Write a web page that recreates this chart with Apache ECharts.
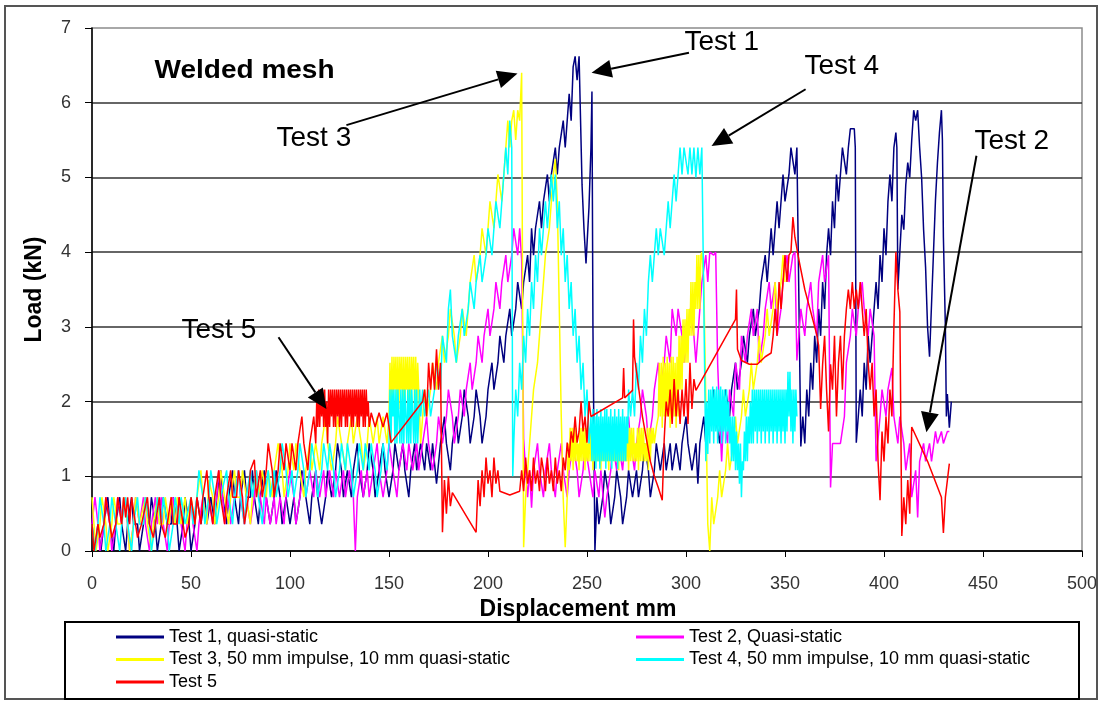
<!DOCTYPE html>
<html>
<head>
<meta charset="utf-8">
<script src="https://cdn.jsdelivr.net/npm/echarts@6/dist/echarts.min.js"></script>
<style>
  html, body { margin: 0; padding: 0; background: #fff; }
  #chart { width: 1102px; height: 703px; }
</style>
</head>
<body>
<div id="chart"></div>
<script>
// Load–displacement records of the welded mesh tests, [displacement mm, load kN]
const seriesNames = [
  'Test 1, quasi-static',
  'Test 2, Quasi-static',
  'Test 3, 50 mm impulse, 10 mm quasi-static',
  'Test 4, 50 mm impulse, 10 mm quasi-static',
  'Test 5'
];
const seriesColors = ['#000080', '#ff00ff', '#ffff00', '#00ffff', '#ff0000'];

const test1 = [[0,0.36],[1.5,0],[3,0.36],[4.5,0],[6,0.36],[8,0.72],[9,0.36],[11,0],[12,0.36],[14,0.72],[15,0.36],[17,0],[18,0.36],[20,0.72],[21,0.36],[23,0.36],[24,0],[26,0.36],[27,0.72],[29,0.36],[30,0.72],[32,0.36],[33,0],[35,0.36],[36,0.72],[38,0.36],[40,0.36],[41,0.72],[43,0.36],[44,0],[46,0.36],[47,0.72],[49,0.36],[50,0],[52,0.36],[53,0.72],[55,0.36],[57,0.72],[58,0.36],[60,0.72],[62,0.36],[63,0.72],[65,1.08],[66,0.72],[68,0.36],[69,0.72],[71,1.08],[72,0.72],[74,0.36],[75,0.72],[77,1.08],[78,0.72],[80,0.72],[81,1.08],[82,0.72],[84,0.36],[85,0.72],[87,1.08],[88,0.72],[90,0.36],[92,0.72],[93,1.08],[95,0.72],[96,0.36],[98,0.72],[100,0.36],[102,0.72],[103,0.36],[105,0.72],[106,1.08],[108,0.72],[110,0.36],[111,0.72],[113,1.08],[114,0.72],[116,0.36],[118,0.72],[119,1.08],[121,0.72],[123,1.08],[124,1.44],[126,1.08],[127,0.72],[129,1.08],[131,0.72],[132,1.08],[134,1.44],[135,1.08],[137,0.72],[139,1.08],[140,1.44],[142,1.08],[143,0.72],[145,1.08],[147,1.44],[148,1.08],[150,0.72],[152,1.08],[153,1.44],[155,1.08],[157,1.44],[158,1.08],[160,0.72],[161,1.08],[163,1.44],[164,1.08],[166,1.44],[168,1.08],[169,1.44],[171,1.08],[172,1.44],[174,0.9],[176,1.44],[178,1.8],[179,1.44],[181,1.08],[182,1.44],[184,1.8],[185,1.44],[187,1.8],[188,2.16],[190,1.8],[191,1.44],[193,1.8],[194,2.16],[196,1.8],[197,1.44],[199,1.8],[200,2.16],[202,2.52],[203,2.16],[205,2.52],[206,2.88],[208,2.52],[209,2.88],[211,3.24],[212,2.88],[214,3.24],[215,3.6],[217,3.24],[218,3.6],[220,3.96],[221,3.6],[222,4.32],[223,3.96],[224,4.32],[226,4.68],[227,4.32],[228,4.68],[230,5.04],[231,4.68],[232,5.04],[234,5.4],[235,5.04],[236,5.4],[238,5.76],[239,5.4],[240,5.76],[241,6.12],[242,5.76],[243,6.48],[244,6.62],[245,6.3],[246,6.62],[247,6.62],[247.5,4.9],[248.5,4.3],[249.5,3.85],[251,4.6],[252,5.4],[252.5,6.15],[253,3.0],[254,0],[255,0.72],[256,0.36],[258,0.72],[259,1.08],[261,0.72],[262,0.36],[264,0.72],[265,1.08],[267,0.72],[268,0.36],[270,0.72],[271,1.08],[273,0.72],[275,1.08],[276,0.72],[278,1.08],[279,1.44],[281,1.08],[282,0.72],[284,1.08],[285,1.44],[287,1.08],[289,1.44],[290,1.08],[292,1.44],[293,1.08],[295,1.44],[297,1.08],[298,1.44],[300,1.8],[301,1.44],[303,1.08],[305,1.44],[306,0.9],[307,1.44],[309,1.8],[310,1.44],[312,1.8],[314,2.16],[315,1.8],[317,1.44],[318,1.8],[320,2.16],[322,1.8],[323,2.16],[325,2.52],[326,2.16],[328,2.52],[329,2.88],[331,2.52],[332,2.88],[334,3.24],[335,2.88],[337,3.24],[338,3.6],[340,3.96],[341,3.6],[343,4.32],[344,3.96],[346,4.68],[347,4.32],[349,5.04],[350,4.68],[352,5.04],[353,5.4],[355,5.04],[356,5.4],[357,5.4],[358,1.4],[359,1.8],[360,1.44],[361,2.16],[362,1.8],[363,2.52],[364,2.16],[365,2.88],[366,2.52],[367,3.24],[368,2.88],[369,3.6],[370,3.24],[371,3.96],[372,4.32],[373,3.96],[374,4.68],[375,4.32],[376,5.04],[377,4.68],[378,5.04],[379,5.4],[381,5.04],[382,5.4],[383,5.65],[385,5.65],[385.5,5.4],[386,1.45],[387,1.8],[388,2.16],[389,1.8],[390,2.52],[391,2.16],[392,2.88],[393,2.52],[394,2.88],[395,3.24],[396,3.6],[397,3.24],[398,3.96],[399,3.6],[400,4.32],[401,3.96],[402,4.68],[403,5.04],[404,4.68],[405,5.4],[406,5.6],[406.5,5.4],[407,3.5],[408,4.0],[409,4.5],[410,4.3],[411,4.9],[412,5.2],[413,5.0],[414,5.5],[415,5.9],[416,5.76],[417,5.9],[418,5.4],[419,5.0],[420,4.3],[421,3.8],[422,3.0],[423,2.6],[424,3.3],[425,4.0],[426,4.7],[427,5.2],[428,5.6],[429,5.9],[429.5,5.5],[430,4.2],[431,3.0],[431.5,1.8],[432,2.1],[433,1.65],[434,2.0]];

const test2 = [[0,0.36],[1.5,0.72],[3,0.36],[4,0],[6,0.36],[7,0.72],[9,0.36],[10,0],[12,0.36],[13,0.72],[15,0.36],[16,0.72],[18,0.36],[19,0],[21,0.36],[22,0.72],[24,0.36],[26,0.72],[27,0.36],[29,0],[30,0.36],[32,0.72],[33,0.36],[35,0.72],[36,0.36],[38,0],[39,0.36],[41,0.72],[42,0.36],[44,0.72],[45,0.36],[47,0],[48,0.36],[50,0.72],[51,0.36],[53,0],[54,0.36],[56,0.72],[58,0.36],[59,0.72],[61,0.36],[63,0.72],[64,1.08],[66,0.72],[67,0.36],[69,0.72],[70,0.36],[72,0.72],[74,1.08],[75,0.72],[77,0.36],[78,0.72],[80,0.36],[82,0.72],[83,1.08],[85,0.72],[87,0.36],[88,0.72],[90,0.36],[92,0.72],[93,0.36],[95,0.72],[97,0.36],[98,0.72],[100,1.08],[102,0.72],[103,0.36],[105,0.72],[107,1.08],[108,0.72],[110,1.08],[112,0.72],[113,1.08],[115,0.72],[117,1.08],[118,0.72],[120,1.08],[122,0.72],[123,1.08],[125,0.72],[127,1.08],[128,0.72],[130,1.08],[132,0.72],[133,0],[134,0.72],[136,1.08],[137,0.72],[139,1.08],[140,0.72],[142,1.08],[144,1.44],[145,1.08],[147,0.72],[149,1.08],[150,1.44],[152,1.08],[154,0.72],[155,1.08],[157,1.44],[159,1.08],[160,1.44],[162,1.08],[164,1.44],[165,1.08],[167,1.44],[169,1.8],[170,1.44],[172,1.08],[174,1.44],[175,1.8],[177,1.44],[179,1.8],[180,2.16],[182,1.8],[183,1.44],[185,1.8],[186,2.16],[188,1.8],[189,2.16],[191,2.52],[192,2.16],[194,2.52],[195,2.88],[197,2.52],[198,2.88],[200,3.24],[201,2.88],[203,3.24],[204,3.6],[206,3.24],[207,3.6],[209,3.96],[210,3.6],[212,3.96],[213,4.32],[215,3.96],[216,4.32],[217,3.9],[218,1.5],[219,1.08],[220,0.72],[221,1.08],[222,0.58],[223,1.08],[225,1.44],[226,1.08],[228,0.72],[229,1.08],[231,1.44],[232,1.08],[234,0.72],[235,1.08],[237,1.44],[238,1.08],[240,0.72],[241,1.08],[243,1.44],[245,1.08],[246,0.72],[248,1.08],[249,1.44],[251,1.08],[253,0.72],[254,1.08],[256,0.72],[257,1.08],[259,0.45],[260,0.72],[262,1.08],[263,1.44],[265,1.08],[266,1.44],[268,1.08],[269,1.44],[271,1.8],[272,1.44],[274,1.08],[275,1.44],[277,1.8],[278,2.16],[280,1.8],[281,1.44],[283,1.8],[284,2.16],[286,2.52],[287,2.16],[289,2.52],[290,2.88],[292,2.52],[293,3.24],[295,2.88],[296,3.24],[298,2.88],[299,2.52],[301,2.88],[302,3.24],[304,2.88],[305,2.52],[307,3.24],[308,3.6],[310,3.96],[311,3.6],[312,4.0],[314,3.96],[315,4.0],[316,2.5],[317,1.8],[318,1.2],[319,1.8],[321,1.44],[322,2.16],[324,1.8],[325,2.52],[327,2.16],[328,2.88],[330,2.52],[331,2.88],[333,3.24],[334,2.88],[336,3.24],[337,2.52],[339,2.88],[340,3.24],[342,3.6],[343,3.24],[345,3.6],[346,2.88],[348,3.24],[349,3.6],[351,3.96],[352,3.6],[354,3.96],[355,4.0],[356,2.55],[357,2.88],[358,3.24],[360,2.88],[361,3.24],[363,3.6],[364,3.24],[366,2.88],[367,3.6],[369,3.96],[370,3.6],[372,3.96],[373,0.85],[374,1.44],[376,1.44],[378,1.44],[380,1.8],[381,2.52],[383,2.88],[384,3.24],[386,2.88],[387,3.24],[389,3.6],[390,3.24],[392,2.88],[393,3.24],[395,2.88],[396,1.2],[398,1.8],[399,2.16],[401,1.8],[402,2.16],[404,2.45],[405,1.8],[407,1.44],[408,1.8],[410,1.44],[411,1.08],[413,1.44],[414,0.72],[416,1.08],[417,0.45],[418,1.2],[420,1.44],[421,1.2],[423,1.44],[424,1.2],[426,1.6],[427,1.44],[429,1.6],[430,1.44],[432,1.6],[433,1.6]];

const test3 = [[0,0.72],[1,0.36],[2,0],[4,0.36],[5,0.72],[7,0.36],[8,0],[10,0.36],[11,0.72],[13,0.36],[15,0.36],[16,0.72],[18,0.36],[19,0],[21,0.36],[22,0.72],[24,0.36],[25,0.36],[27,0.72],[28,0.36],[30,0],[31,0.36],[33,0.72],[34,0.36],[36,0.36],[37,0.72],[39,0.36],[40,0.72],[42,0.36],[43,0.72],[45,0.36],[47,0.72],[48,0.36],[50,0.72],[52,0.36],[53,0.72],[55,1.08],[56,0.72],[58,0.36],[59,0.95],[61,0.72],[62,0.36],[64,0.72],[65,1.08],[67,0.72],[69,0.36],[70,0.72],[72,1.08],[73,0.72],[75,0.72],[76,1.08],[78,0.72],[80,0.36],[81,0.72],[83,1.08],[84,0.72],[86,1.08],[88,0.72],[89,1.08],[91,0.72],[92,1.08],[94,1.44],[96,1.08],[97,0.72],[99,1.08],[100,1.44],[102,1.08],[103,1.44],[105,1.08],[107,0.72],[108,1.08],[110,1.44],[111,1.08],[113,1.44],[115,1.08],[116,1.44],[118,1.8],[119,1.44],[121,1.08],[123,1.44],[124,1.8],[126,1.44],[128,1.08],[129,1.44],[131,1.8],[132,1.44],[134,1.8],[136,1.44],[137,1.08],[139,1.44],[140,1.8],[142,1.44],[144,1.8],[145,1.44],[147,1.8],[149,1.44],[150,1.8],[150.5,2.52],[151,1.9],[151.5,2.6],[152,1.9],[152.5,2.6],[153,2.16],[153.5,2.6],[154,1.9],[154.5,2.6],[155,1.9],[155.5,2.6],[156,2.16],[156.5,2.6],[157,1.9],[157.5,2.6],[158,1.9],[158.5,2.6],[159,2.16],[159.5,2.6],[160,1.9],[160.5,2.6],[161,1.9],[161.5,2.6],[162,2.16],[162.5,2.6],[163,1.9],[163.5,2.6],[164,1.9],[164.5,2.52],[165,2.16],[166,1.44],[167,1.8],[168,2.16],[169,1.8],[171,2.16],[172,2.52],[174,2.16],[175,2.52],[177,2.88],[178,2.52],[180,2.88],[181,3.24],[183,2.88],[184,2.52],[186,2.88],[187,3.24],[189,2.88],[190,3.24],[191,3.6],[193,3.96],[194,3.6],[196,3.96],[197,4.32],[199,3.96],[200,4.32],[201,4.68],[203,4.32],[204,4.68],[205,5.04],[207,4.68],[208,5.04],[209,5.4],[210,5.76],[211,5.4],[212,5.76],[213,5.9],[214,5.5],[215,5.9],[216,5.76],[217,6.4],[217.5,6.4],[218,0.05],[219,0.72],[220,1.08],[222,1.8],[223,2.16],[225,2.52],[226,2.88],[228,3.6],[229,3.96],[231,4.32],[232,4.68],[233,5.04],[234,5.25],[235,4.68],[236,3.24],[237,1.8],[238,0.7],[239,0.05],[240,0.72],[240.5,1.44],[241,1.08],[241.5,1.65],[242,1.2],[242.5,1.65],[243,1.08],[243.5,1.65],[244,1.2],[244.5,1.65],[245,1.2],[245.5,1.44],[246,1.08],[246.5,1.65],[247,1.2],[247.5,1.65],[248,1.2],[248.5,1.65],[249,1.08],[249.5,1.65],[250,1.2],[250.5,1.44],[251,1.2],[251.5,1.65],[252,1.2],[252.5,1.65],[253,1.08],[253.5,1.65],[254,1.2],[254.5,1.65],[255,1.2],[255.5,1.44],[256,1.2],[256.5,1.65],[257,1.08],[257.5,1.65],[258,1.2],[258.5,1.65],[259,1.2],[259.5,1.65],[260,1.2],[260.5,1.44],[261,1.08],[261.5,1.65],[262,1.2],[262.5,1.65],[263,1.2],[263.5,1.65],[264,1.2],[264.5,1.44],[265,1.2],[265.5,1.65],[266,1.08],[266.5,1.65],[267,1.2],[267.5,1.65],[268,1.2],[268.5,1.65],[269,1.2],[269.5,1.44],[270,1.2],[270.5,1.65],[271,1.08],[271.5,1.65],[272,1.2],[272.5,1.65],[273,1.2],[273.5,1.65],[274,1.2],[274.5,1.44],[275,1.2],[275.5,1.65],[276,1.08],[276.5,1.65],[277,1.2],[277.5,1.65],[278,1.2],[278.5,1.65],[279,1.2],[279.5,1.44],[280,1.2],[280.5,1.65],[281,1.08],[281.5,1.65],[282,1.2],[282.5,1.65],[283,1.44],[283.5,1.65],[284,1.44],[285,1.65],[286,1.8],[286.5,2.52],[287,1.8],[287.5,2.52],[288,1.65],[288.5,2.6],[289,1.8],[289.5,2.52],[290,1.8],[290.5,2.6],[291,1.8],[291.5,2.52],[292,1.65],[292.5,2.6],[293,1.8],[293.5,2.6],[294,1.8],[294.5,2.52],[295,1.65],[295.5,2.6],[296,1.8],[296.5,2.88],[297,2.16],[297.5,2.88],[298,2.16],[298.5,3.1],[299,2.52],[299.5,3.1],[300,2.52],[300.5,3.24],[301,2.52],[301.5,3.24],[302,2.88],[302.5,3.6],[303,2.88],[303.5,3.6],[304,2.88],[304.5,3.6],[305,3.24],[305.5,3.96],[306,3.24],[306.5,3.96],[307,3.24],[307.5,3.96],[308,4.0],[309,3.6],[310,2.0],[311,0.36],[312,0],[313,0.72],[314,0.36],[316,0.72],[317,1.08],[318,0.72],[320,1.08],[321,1.44],[322,1.08],[324,1.44],[325,1.8],[326,1.44],[328,1.8],[329,2.16],[330,1.8],[332,2.16],[333,2.52],[334,2.16],[336,2.52],[337,2.88],[338,2.52],[340,2.88],[341,3.24],[342,2.88],[344,3.24],[345,3.6],[346,3.24],[348,3.6],[349,3.96],[350,3.6]];

const test4 = [[0,0.36],[1.5,0],[3,0.36],[4,0.72],[6,0.36],[7,0],[9,0.36],[10,0.72],[12,0.36],[14,0],[15,0.36],[17,0.72],[18,0.36],[20,0],[21,0.36],[23,0.72],[24,0.36],[26,0.36],[27,0.72],[29,0.36],[30,0],[32,0.36],[33,0.72],[35,0.36],[36,0.72],[38,0.36],[39,0],[41,0.36],[42,0.72],[44,0.36],[45,0.72],[47,0.36],[48,0.36],[50,0.72],[51,0.36],[53,0.72],[54,1.08],[56,0.72],[57,0.36],[59,0.72],[60,1.08],[62,0.72],[63,0.36],[65,0.72],[66,0.72],[68,1.08],[69,0.72],[71,0.36],[72,0.72],[74,1.08],[75,0.72],[77,0.36],[78,0.72],[80,1.08],[81,0.72],[83,1.08],[84,0.72],[86,0.36],[87,0.72],[89,1.08],[90,0.72],[92,1.08],[93,0.72],[95,1.08],[96,1.44],[98,1.08],[99,0.72],[101,1.08],[102,0.72],[104,1.08],[105,1.44],[107,1.08],[108,0.72],[110,1.08],[111,1.44],[113,1.08],[114,0.72],[116,1.08],[117,1.44],[119,1.08],[120,1.44],[122,1.08],[123,0.72],[125,1.08],[126,1.44],[128,1.08],[129,1.44],[131,1.08],[132,0.72],[134,1.08],[135,1.44],[137,1.08],[138,1.44],[140,1.08],[141,1.44],[143,1.08],[144,0.72],[146,1.08],[147,1.44],[149,1.08],[150,1.44],[150.5,2.16],[151,1.44],[151.5,2.16],[152,1.8],[152.5,2.16],[153,1.44],[153.5,2.16],[154,1.44],[154.5,2.16],[155,1.8],[155.5,1.44],[156,2.16],[156.5,1.44],[157,2.16],[157.5,1.44],[158,2.16],[158.5,1.8],[159,1.44],[159.5,2.16],[160,1.44],[160.5,2.16],[161,1.44],[161.5,2.16],[162,1.8],[162.5,1.44],[163,2.16],[163.5,1.44],[164,2.16],[164.5,1.44],[165,1.8],[165.5,2.16],[166,1.8],[167,2.16],[168,1.8],[170,2.16],[171,1.8],[173,2.16],[174,2.52],[176,2.16],[177,2.88],[179,2.52],[180,3.24],[181,3.5],[182,2.88],[184,2.52],[185,2.88],[187,3.24],[188,2.88],[190,3.24],[191,3.6],[193,3.24],[194,3.6],[196,3.96],[197,3.6],[199,3.96],[200,4.32],[202,3.96],[203,4.32],[204,4.68],[206,4.32],[207,4.68],[208,5.04],[209,5.4],[210,5.04],[211,5.76],[212,5.4],[212.5,1.0],[213,1.44],[214,2.16],[215,1.8],[216,2.52],[217,2.16],[218,2.88],[219,2.52],[220,3.24],[221,2.88],[222,3.6],[223,3.24],[224,3.96],[225,3.6],[226,4.32],[227,3.96],[228,4.32],[229,4.68],[230,4.32],[231,4.68],[232,5.04],[233,4.68],[234,5.04],[235,4.32],[236,4.68],[237,3.96],[238,4.32],[239,3.6],[240,3.96],[241,3.24],[242,3.6],[243,2.88],[244,3.24],[245,2.52],[246,2.88],[247,2.16],[248,2.52],[249,1.8],[250,2.16],[251,1.44],[252,1.8],[252.5,1.2],[253,1.9],[253.5,1.2],[254,1.8],[254.5,1.1],[255,1.9],[255.5,1.2],[256,1.8],[256.5,1.1],[257,1.9],[257.5,1.2],[258,1.8],[258.5,1.2],[259,1.9],[259.5,1.1],[260,1.9],[260.5,1.2],[261,1.8],[261.5,1.2],[262,1.9],[262.5,1.1],[263,1.8],[263.5,1.2],[264,1.9],[264.5,1.2],[265,1.8],[265.5,1.1],[266,1.9],[266.5,1.2],[267,1.8],[267.5,1.2],[268,1.9],[268.5,1.2],[269,1.8],[269.5,1.2],[270,1.8],[270.5,1.44],[271,2.16],[272,1.8],[273,2.16],[274,1.8],[275,2.52],[276,2.16],[277,2.88],[278,2.52],[279,3.24],[280,2.88],[281,3.6],[282,3.96],[283,3.6],[284,3.96],[285,4.32],[286,3.96],[287,4.32],[288,4.32],[289,3.96],[290,4.32],[291,4.68],[292,4.32],[293,4.68],[294,5.04],[295,4.68],[296,5.04],[297,5.4],[298,5.04],[299,5.4],[300,5.4],[301,5.04],[302,5.4],[303,5.04],[304,5.4],[305,5.0],[306,5.4],[307,5.04],[308,5.4],[309,5.4],[310,1.2],[310.5,2.0],[311,1.3],[311.5,2.16],[312,1.44],[312.5,2.16],[313,1.6],[313.5,2.2],[314,1.44],[314.5,2.16],[315,1.6],[315.5,2.2],[316,1.44],[316.5,2.16],[317,1.6],[317.5,2.2],[318,1.44],[318.5,2.16],[319,1.6],[319.5,2.16],[320,1.44],[320.5,2.16],[321,1.6],[321.5,2.0],[322,1.44],[322.5,1.8],[323,1.2],[323.5,1.8],[324,1.2],[324.5,1.8],[325,1.08],[325.5,1.6],[326,1.08],[326.5,1.44],[327,0.9],[327.5,1.44],[328,0.72],[328.5,1.2],[329,1.08],[329.5,1.6],[330,1.2],[330.5,1.8],[331,1.2],[331.5,1.8],[332,1.44],[332.5,2.0],[333,1.44],[333.5,2.16],[334,1.44],[334.5,2.16],[335,1.6],[335.5,2.16],[336,1.44],[336.5,2.16],[337,1.6],[337.5,2.16],[338,1.44],[338.5,2.16],[339,1.6],[339.5,2.16],[340,1.44],[340.5,2.16],[341,1.6],[341.5,2.16],[342,1.44],[342.5,2.16],[343,1.6],[343.5,2.16],[344,1.44],[344.5,2.16],[345,1.6],[345.5,2.16],[346,1.44],[346.5,2.16],[347,1.6],[347.5,2.16],[348,1.44],[348.5,2.16],[349,1.6],[349.5,2.16],[350,1.44],[350.5,2.16],[351,1.6],[351.5,2.4],[352,1.8],[352.5,2.4],[353,1.6],[353.5,2.16],[354,1.44],[354.5,2.16],[355,1.6],[355.5,2.16],[356,1.8]];

const test5 = [[0,0.36],[1,0],[3,0.36],[4,0.18],[6,0.36],[7,0.72],[9,0.36],[10,0.18],[12,0.36],[13,0.72],[15,0.36],[16,0.72],[17,0.45],[18,0.72],[19,0.36],[20,0.72],[22,0.36],[23,0.18],[25,0.36],[26,0.36],[28,0.72],[29,0.36],[31,0.18],[32,0.36],[34,0.72],[35,0.36],[37,0.18],[38,0.36],[40,0.72],[41,0.36],[43,0.36],[44,0.72],[46,0.36],[47,0.18],[49,0.36],[50,0.72],[52,0.36],[53,0.72],[55,0.36],[56,0.72],[58,1.08],[59,0.72],[61,0.36],[62,0.72],[64,1.08],[65,0.72],[67,0.36],[68,0.72],[70,1.08],[71,0.72],[73,0.72],[74,1.08],[76,0.72],[77,0.36],[79,0.72],[80,1.08],[82,1.22],[83,0.72],[85,1.08],[86,0.72],[88,1.08],[89,1.44],[91,1.08],[92,0.72],[94,1.08],[95,1.44],[97,1.08],[98,1.44],[100,1.08],[101,1.44],[103,1.08],[104,1.44],[106,1.8],[107,1.44],[109,1.08],[110,1.44],[112,1.8],[113,1.44],[113.5,2.0],[114,1.66],[114.5,2.16],[115,1.66],[115.5,2.16],[116,1.8],[116.5,2.16],[117,1.66],[117.5,2.16],[118,1.66],[118.5,2.0],[119,1.44],[119.5,2.16],[120,1.66],[120.5,2.16],[121,1.8],[121.5,2.16],[122,1.66],[122.5,2.16],[123,1.66],[123.5,2.16],[124,1.8],[124.5,2.16],[125,1.66],[125.5,2.16],[126,1.66],[126.5,2.16],[127,1.8],[127.5,2.16],[128,1.66],[128.5,2.16],[129,1.66],[129.5,2.16],[130,1.8],[130.5,2.16],[131,1.66],[131.5,2.16],[132,1.66],[132.5,2.16],[133,1.8],[133.5,2.16],[134,1.66],[134.5,2.16],[135,1.66],[135.5,2.16],[136,1.8],[136.5,2.16],[137,1.66],[137.5,2.16],[138,1.66],[138.5,2.16],[139,1.8],[139.5,2.0],[140,1.66],[141,1.85],[143,1.66],[145,1.85],[147,1.66],[149,1.85],[150,1.66],[151,1.45],[167,2.0],[168,2.16],[169,1.8],[170,2.52],[171,2.16],[172,2.52],[173,2.16],[174,2.7],[175,2.16],[176,2.52],[177,0.25],[178,0.95],[179,0.5],[180,1.0],[181,0.6],[182,0.78],[194,0.25],[195,0.95],[196,0.6],[197,1.08],[198,0.72],[199,1.25],[200,0.9],[201,1.08],[202,0.72],[203,1.25],[204,0.9],[205,1.08],[206,0.8],[211,0.75],[216,0.8],[217,1.08],[218,0.8],[219,1.25],[220,0.9],[221,1.08],[222,0.8],[223,1.25],[224,0.9],[225,1.08],[226,0.8],[227,1.25],[228,1.08],[229,0.8],[230,1.25],[231,0.9],[232,1.08],[233,0.8],[234,1.25],[235,0.9],[236,1.08],[237,0.8],[238,1.25],[239,1.08],[240,1.45],[241,1.25],[242,1.6],[243,1.45],[244,1.8],[245,1.45],[246,1.6],[247,2.0],[248,1.6],[249,1.8],[250,1.45],[251,2.0],[252,1.8],[253,1.8],[268,2.05],[268.5,2.45],[269,2.05],[273,2.15],[273.5,3.1],[274,2.6],[276,2.2],[278,1.8],[280,1.5],[282,1.2],[284,1.0],[286,0.85],[288,0.68],[289,1.5],[290,2.0],[291,1.8],[292,2.16],[293,1.7],[294,2.3],[295,1.8],[296,2.16],[297,1.7],[298,2.16],[299,1.8],[300,2.3],[301,1.7],[302,2.52],[303,1.9],[304,2.3],[305,2.15],[325,3.1],[325.5,3.5],[326,2.7],[328,2.55],[332,2.5],[336,2.5],[340,2.6],[343,2.65],[344,2.88],[345,3.24],[346,2.88],[347,3.6],[348,3.24],[349,3.6],[350,3.96],[351,3.6],[352,3.96],[353,4.0],[354,4.47],[355,4.2],[357,3.9],[360,3.5],[363,3.2],[366,2.9],[367,2.75],[368,1.9],[369,2.5],[370,2.88],[371,2.16],[372,1.6],[373,2.5],[374,2.16],[375,2.88],[376,1.8],[377,2.52],[378,2.88],[379,2.16],[380,2.88],[381,3.24],[382,3.5],[383,3.24],[384,3.6],[385,3.24],[386,3.5],[387,3.24],[388,3.6],[389,3.24],[390,2.88],[391,3.24],[392,2.52],[393,2.16],[394,2.52],[395,1.8],[396,2.16],[397,1.2],[398,0.68],[399,1.6],[400,1.2],[401,1.8],[402,1.44],[403,2.16],[404,1.8],[405,3.0],[406,4.0],[407,3.5],[408,3.2],[409,0.2],[410,0.72],[411,0.36],[412,0.95],[413,0.5],[414,1.66],[422,1.2],[429,0.72],[430,0.24],[431,0.72],[432,0.72],[433,1.17]];

const seriesData = [test1, test2, test3, test4, test5];

// Callouts: label anchor (left edge, text middle) and arrow from/to, all in data units
const callouts = [
  { text: 'Test 1', at: [299.2, 6.81], from: [301.5, 6.67], to: [252.3, 6.40] },
  { text: 'Test 4', at: [359.8, 6.49], from: [360.4, 6.18], to: [312.9, 5.42] },
  { text: 'Test 3', at: [93.2, 5.52],  from: [128.5, 5.70], to: [214.9, 6.39] },
  { text: 'Test 2', at: [445.7, 5.49], from: [446.7, 5.29], to: [421.4, 1.59] },
  { text: 'Test 5', at: [45.2, 2.95],  from: [94.2, 2.86],  to: [118.4, 1.90] }
];
const chartTitle = { text: 'Welded mesh', at: [31.6, 6.42] };

const FONT = "'Liberation Sans', Arial, Helvetica, sans-serif";
const chart = echarts.init(document.getElementById('chart'), null, { renderer: 'canvas' });

const legendText = { fontFamily: FONT, fontSize: 18, color: '#000' };
const legendBase = {
  orient: 'vertical', top: 628, itemWidth: 48, itemHeight: 3, itemGap: 4.5,
  itemTextGap: 5, icon: 'rect', padding: 0, selectedMode: false, textStyle: legendText
};

chart.setOption({
  animation: false,
  backgroundColor: '#ffffff',
  grid: {
    left: 92, right: 20, top: 28, bottom: 152,
    show: true, borderColor: '#8c8c8c', borderWidth: 1.5, backgroundColor: '#ffffff'
  },
  xAxis: {
    type: 'value', min: 0, max: 500, interval: 50,
    name: 'Displacement mm', nameLocation: 'middle', nameGap: 44,
    nameTextStyle: { fontFamily: FONT, fontWeight: 'bold', fontSize: 23, color: '#000', padding: [0, 18, 0, 0] },
    axisLine: { show: true, onZero: false, lineStyle: { color: '#000', width: 1.5 } },
    axisTick: { show: true, inside: false, length: 6, lineStyle: { color: '#000', width: 1 } },
    axisLabel: { fontFamily: FONT, fontSize: 18, color: '#333', margin: 24 },
    splitLine: { show: false }
  },
  yAxis: {
    type: 'value', min: 0, max: 7, interval: 1,
    name: 'Load (kN)', nameLocation: 'middle', nameGap: 46, nameRotate: 90,
    nameTextStyle: { fontFamily: FONT, fontWeight: 'bold', fontSize: 23, color: '#000' },
    axisLine: { show: true, lineStyle: { color: '#000', width: 1.5 } },
    axisTick: { show: true, inside: false, length: 7, lineStyle: { color: '#000', width: 1 } },
    axisLabel: { fontFamily: FONT, fontSize: 18, color: '#333', margin: 21 },
    splitLine: { show: true, showMaxLine: false, lineStyle: { color: '#333', width: 1.5 } }
  },
  legend: [
    Object.assign({}, legendBase, { left: 116, data: [seriesNames[0], seriesNames[2], seriesNames[4]] }),
    Object.assign({}, legendBase, { left: 636, data: [seriesNames[1], seriesNames[3]] })
  ],
  series: seriesData.map((d, i) => ({
    name: seriesNames[i],
    type: 'line',
    data: d,
    showSymbol: false,
    symbol: 'none',
    color: seriesColors[i],
    lineStyle: { color: seriesColors[i], width: 1.5 },
    z: 2 + i
  }))
});

// Frame, legend box, title and callout arrows
function px(p) { return chart.convertToPixel({ gridIndex: 0 }, p); }

const graphics = [
  { type: 'rect', shape: { x: 5, y: 6, width: 1092, height: 693 },
    style: { fill: 'none', stroke: '#555', lineWidth: 2 }, silent: true, z: 100 },
  { type: 'rect', shape: { x: 65, y: 622, width: 1014, height: 77 },
    style: { fill: 'none', stroke: '#000', lineWidth: 2 }, silent: true, z: 100 }
];

const tp = px(chartTitle.at);
graphics.push({
  type: 'text', x: tp[0], y: tp[1], scaleX: 1.12, z: 100, silent: true,
  style: { text: chartTitle.text, fontFamily: FONT, fontWeight: 'bold', fontSize: 25,
           fill: '#000', align: 'left', verticalAlign: 'middle' }
});

callouts.forEach(c => {
  const a = px(c.at), s = px(c.from), t = px(c.to);
  graphics.push({
    type: 'text', x: a[0], y: a[1], z: 100, silent: true,
    style: { text: c.text, fontFamily: FONT, fontSize: 28, fill: '#000',
             align: 'left', verticalAlign: 'middle' }
  });
  const dx = t[0] - s[0], dy = t[1] - s[1];
  const len = Math.hypot(dx, dy), ux = dx / len, uy = dy / len;
  const headL = 20, headW = 9;
  const bx = t[0] - ux * headL, by = t[1] - uy * headL;
  graphics.push({
    type: 'line', z: 100, silent: true,
    shape: { x1: s[0], y1: s[1], x2: bx, y2: by },
    style: { stroke: '#000', lineWidth: 2 }
  });
  graphics.push({
    type: 'polygon', z: 100, silent: true,
    shape: { points: [[t[0], t[1]], [bx - uy * headW, by + ux * headW], [bx + uy * headW, by - ux * headW]] },
    style: { fill: '#000' }
  });
});

chart.setOption({ graphic: graphics });
</script>
</body>
</html>
